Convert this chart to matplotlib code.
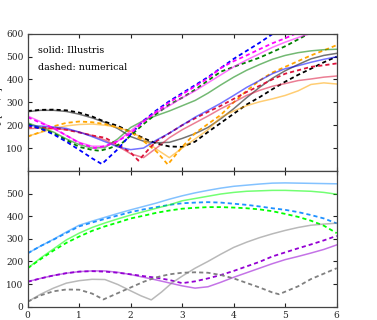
import matplotlib
matplotlib.use("Agg")
import matplotlib.pyplot as plt

plt.rcParams['font.family'] = ['DejaVu Serif', 'DejaVu Sans']
plt.rcParams['lines.scale_dashes'] = False

# common radius grid (upper and lower panels)
r = [0, 0.25, 0.5, 0.75, 1, 1.25, 1.5, 1.75, 2, 2.25, 2.5, 2.75, 3,
     3.25, 3.5, 3.75, 4, 4.25, 4.5, 4.75, 5, 5.25, 5.5, 5.75, 6]

# ---- upper panel ----
black_sim = [259, 265, 265, 260, 248, 232, 212, 185, 150, 130, 123, 125, 142,
             163, 190, 228, 272, 320, 365, 405, 438, 465, 490, 505, 514]
black_num = [262, 267, 268, 265, 255, 238, 215, 197, 170, 143, 120, 107, 105,
             128, 170, 210, 250, 290, 322, 357, 390, 420, 447, 475, 500]

blue_sim = [198, 196, 192, 186, 170, 150, 128, 105, 93, 100, 135, 165, 200,
            235, 265, 296, 330, 365, 395, 425, 447, 460, 475, 488, 499]
r_blue_num = [0, 0.25, 0.5, 0.75, 1, 1.15, 1.25, 1.44, 1.63, 1.75, 2, 2.25, 2.5,
              2.75, 3, 3.25, 3.5, 3.75, 4, 4.25, 4.5, 4.75, 5]
blue_num = [200, 185, 160, 128, 92, 70, 55, 30, 70, 95, 160, 220, 265,
            305, 340, 375, 410, 450, 490, 525, 560, 598, 635]

mag_sim = [240, 215, 185, 155, 125, 108, 108, 130, 175, 220, 255, 285, 320,
           350, 385, 420, 455, 485, 512, 540, 563, 583, 602, 620, 640]
r_mag_num = [0, 0.25, 0.5, 0.75, 1, 1.3, 1.5, 1.75, 2, 2.25, 2.5, 2.75, 3,
             3.25, 3.5, 3.75, 4, 4.25, 4.5, 4.75, 5, 5.25]
mag_num = [235, 210, 188, 155, 122, 100, 108, 130, 165, 215, 260, 300, 335,
           370, 405, 450, 480, 505, 532, 558, 580, 605]

green_sim = [210, 190, 170, 140, 115, 100, 102, 140, 190, 220, 242, 262, 285,
             308, 340, 376, 410, 440, 465, 488, 505, 517, 525, 530, 532]
r_green_num = [0, 0.25, 0.5, 0.75, 1, 1.25, 1.4, 1.6, 1.83, 2, 2.25, 2.5, 2.75,
               3, 3.25, 3.5, 3.75, 4, 4.25, 4.5, 4.75, 5, 5.25, 5.5]
green_num = [205, 185, 165, 135, 105, 92, 88, 100, 121, 155, 205, 250, 290,
             320, 355, 395, 434, 455, 475, 495, 520, 545, 575, 605]

orange_sim = [152, 168, 185, 197, 203, 205, 200, 190, 172, 140, 95, 58, 100,
              140, 180, 235, 262, 285, 302, 315, 330, 350, 378, 385, 380]
r_orange_num = [0, 0.25, 0.5, 0.75, 1, 1.25, 1.5, 1.75, 2, 2.25, 2.5, 2.72,
                3, 3.25, 3.5, 3.75, 4, 4.25, 4.5, 4.75, 5, 5.25, 5.5, 5.75, 6]
orange_num = [150, 170, 195, 210, 216, 213, 205, 190, 170, 130, 85, 28,
              105, 165, 205, 245, 300, 350, 395, 430, 455, 480, 505, 527, 550]

red_sim = [185, 187, 186, 180, 170, 155, 135, 108, 75, 58, 100, 145, 180,
           210, 240, 272, 300, 330, 352, 370, 382, 395, 402, 410, 415]
r_red_num = [0, 0.25, 0.5, 0.75, 1, 1.25, 1.5, 1.75, 2, 2.15, 2.35, 2.5, 2.75,
             3, 3.25, 3.5, 3.75, 4, 4.25, 4.5, 4.75, 5, 5.25, 5.5, 5.75, 6]
red_num = [190, 190, 188, 180, 168, 155, 145, 115, 80, 45, 95, 130, 165,
           200, 230, 258, 285, 315, 345, 372, 400, 425, 440, 455, 462, 470]

# ---- lower panel ----
sky_sim = [236, 268, 298, 330, 360, 378, 395, 412, 428, 443, 458, 475, 490,
           503, 514, 524, 532, 537, 542, 546, 547, 546, 545, 544, 543]
sky_num = [236, 268, 296, 326, 355, 372, 388, 403, 418, 430, 440, 450, 457,
           460, 462, 460, 455, 450, 443, 435, 428, 418, 405, 390, 368]

lime_sim = [170, 215, 255, 295, 325, 350, 370, 388, 405, 420, 435, 450, 468,
            478, 488, 498, 505, 510, 512, 514, 514, 512, 510, 505, 497]
lime_num = [170, 210, 248, 282, 310, 335, 355, 372, 390, 402, 415, 425, 433,
            437, 440, 440, 438, 435, 430, 422, 410, 397, 380, 358, 325]

violet_sim = [111, 125, 138, 148, 155, 158, 158, 152, 142, 130, 118, 105, 92,
              82, 88, 108, 130, 150, 170, 190, 208, 222, 237, 253, 273]
violet_num = [110, 125, 138, 148, 155, 157, 155, 150, 143, 135, 128, 118, 104,
              112, 125, 140, 158, 178, 198, 222, 240, 258, 275, 293, 313]

r_gray_sim = [0, 0.25, 0.5, 0.75, 1, 1.25, 1.5, 1.75, 2, 2.2, 2.4, 2.6, 2.8,
              3, 3.25, 3.5, 3.75, 4, 4.25, 4.5, 4.75, 5, 5.25, 5.5, 5.75, 6]
gray_sim = [22, 55, 82, 104, 115, 121, 120, 98, 70, 48, 30, 65, 105,
            135, 170, 200, 232, 262, 285, 305, 322, 337, 350, 360, 365, 369]
r_gray_num = [0, 0.25, 0.5, 0.75, 1, 1.25, 1.47, 1.75, 2, 2.25, 2.5, 2.75, 3,
              3.25, 3.5, 3.75, 4, 4.25, 4.5, 4.75, 4.88, 5.25, 5.5, 5.75, 6]
gray_num = [22, 50, 68, 76, 75, 58, 32, 60, 85, 110, 130, 143, 150,
            152, 150, 140, 125, 105, 85, 63, 55, 90, 122, 146, 170]

DASH = (3, 2.2)

fig = plt.figure(figsize=(3.77, 3.2), dpi=100)
ax1 = fig.add_axes([0.0735, 0.4659, 0.8196, 0.4288])
ax2 = fig.add_axes([0.0735, 0.0416, 0.8196, 0.4243])

top_sets = [
    ('black', r, black_sim, r, black_num),
    ('#ffa500', r, orange_sim, r_orange_num, orange_num),
    ('crimson', r, red_sim, r_red_num, red_num),
    ('green', r, green_sim, r_green_num, green_num),
    ('blue', r, blue_sim, r_blue_num, blue_num),
    ('magenta', r, mag_sim, r_mag_num, mag_num),
]
for col, xs, ys, xn, yn in top_sets:
    ax1.plot(xs, ys, color=col, lw=1.1, alpha=0.55)
    ax1.plot(xn, yn, color=col, lw=1.3, ls='--', dashes=DASH)

bottom_sets = [
    ('dodgerblue', r, sky_sim, r, sky_num),
    ('lime', r, lime_sim, r, lime_num),
    ('darkviolet', r, violet_sim, r, violet_num),
    ('gray', r_gray_sim, gray_sim, r_gray_num, gray_num),
]
for col, xs, ys, xn, yn in bottom_sets:
    ax2.plot(xs, ys, color=col, lw=1.1, alpha=0.55)
    ax2.plot(xn, yn, color=col, lw=1.3, ls='--', dashes=DASH)

for ax in (ax1, ax2):
    ax.set_xlim(0, 6)
    ax.set_ylim(0, 600)
    ax.set_xticks([0, 1, 2, 3, 4, 5, 6])
    ax.tick_params(direction='in', top=True, right=True, length=3, width=0.8,
                   labelsize=6.5, pad=3, colors='#222222')
    for s in ax.spines.values():
        s.set_linewidth(0.9)
        s.set_color('#444444')

ax1.set_yticks([100, 200, 300, 400, 500, 600])
ax1.set_xticklabels([])
ax2.set_yticks([0, 100, 200, 300, 400, 500])

ax1.text(0.032, 0.875, 'solid: Illustris', transform=ax1.transAxes,
         fontsize=6.8, va='center')
ax1.text(0.032, 0.755, 'dashed: numerical', transform=ax1.transAxes,
         fontsize=6.8, va='center')

# axis label sits mostly outside the canvas, as in the original
ax1.set_ylabel(r'$v_{\rm c}$ [km/s]', fontsize=6.8)
ax1.yaxis.set_label_coords(-0.075, 0.45)

fig.savefig('out.png', dpi=100)
